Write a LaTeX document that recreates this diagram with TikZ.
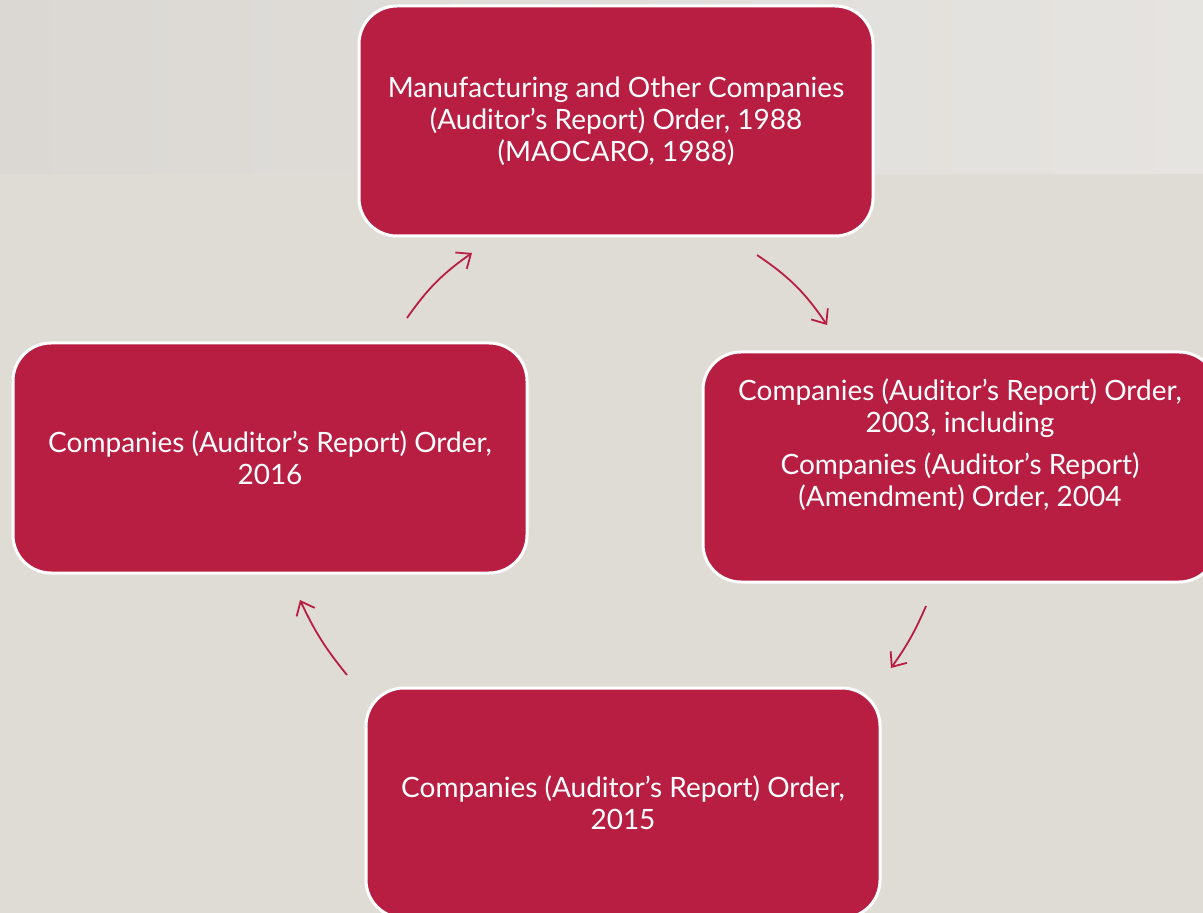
\documentclass[tikz,border=0pt]{standalone}
\usepackage{fontspec}
\setmainfont{Lato}
\usetikzlibrary{arrows.meta}

\definecolor{crimson}{RGB}{183,30,66}
\definecolor{bandleft}{RGB}{219,216,212}
\definecolor{bandright}{RGB}{230,228,224}
\definecolor{paper}{RGB}{223,220,213}

\begin{document}
\begin{tikzpicture}[x=0.5pt, y=-0.5pt,
  order/.style={fill=crimson, draw=white, line width=1.5pt, rounded corners=19pt,
    minimum width=257pt, minimum height=115pt, text=white, align=center,
    font=\fontsize{14}{16}\selectfont},
  ordertext/.style={text=white, align=center, font=\fontsize{14}{16}\selectfont},
  flow/.style={crimson, line width=0.9pt, -{Straight Barb[length=6pt,width=10pt]}}]

  \useasboundingbox (0,0) rectangle (1203,913);

  % Background: lighter band on top, plain paper below
  \fill[left color=bandleft, right color=bandright] (0,0) rectangle (1203,174);
  \fill[paper] (0,174) rectangle (1203,913);

  % The four orders, clockwise from the top
  \node[order] (caro88) at (616,121)
    {Manufacturing and Other Companies\\(Auditor’s Report) Order, 1988\\(MAOCARO, 1988)};
  \node[order] (caro03) at (960,467) {};
  \node[ordertext] (caro03txt) at (960,445)
    {Companies (Auditor’s Report) Order,\\2003, including\\[5pt]
     Companies (Auditor’s Report)\\(Amendment) Order, 2004};
  \node[order] (caro15) at (623,803) {Companies (Auditor’s Report) Order,\\2015};
  \node[order] (caro16) at (270,458) {Companies (Auditor’s Report) Order,\\2016};

  % End points of the arrows between the boxes
  \coordinate (a1s) at (407,318);  \coordinate (a1e) at (472,253);
  \coordinate (a2s) at (757,255);  \coordinate (a2e) at (827,325);
  \coordinate (a3s) at (926,606);  \coordinate (a3e) at (891,668);
  \coordinate (a4s) at (347,675);  \coordinate (a4e) at (300,600);

  % Curved arrows around the cycle
  \draw[flow] (a1s) to[bend left=10] (a1e);
  \draw[flow] (a2s) to[bend left=11] (a2e);
  \draw[flow] (a3s) to[bend left=6]  (a3e);
  \draw[flow] (a4s) to[bend left=7]  (a4e);

\end{tikzpicture}
\end{document}
